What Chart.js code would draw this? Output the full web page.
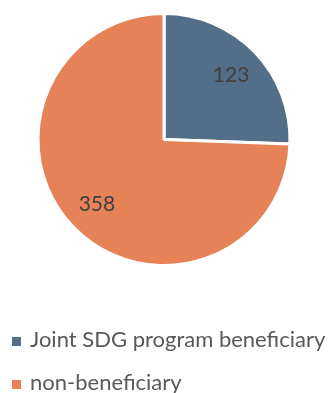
<!DOCTYPE html>
<html>
<head>
<meta charset="utf-8">
<script src="https://cdn.jsdelivr.net/npm/chart.js@4/dist/chart.umd.min.js"></script>
<style>
  html, body { margin: 0; padding: 0; background: #ffffff; }
  #wrap { width: 328px; height: 393px; position: relative; }
</style>
</head>
<body>
<div id="wrap"><canvas id="chart"></canvas></div>
<script>
// Survey respondents split by programme participation
const categories = ['Joint SDG program beneficiary', 'non-beneficiary'];
const counts = [123, 358];
const sliceColors = ['#526E88', '#E58258'];

// Value labels inside each slice, placed along the slice's mid angle
const sliceLabels = {
  id: 'sliceLabels',
  afterDatasetsDraw(chart) {
    const ctx = chart.ctx;
    const meta = chart.getDatasetMeta(0);
    ctx.save();
    ctx.font = '21px Lato, "Open Sans", sans-serif';
    ctx.fillStyle = '#404040';
    ctx.textAlign = 'center';
    ctx.textBaseline = 'middle';
    meta.data.forEach((arc, i) => {
      const p = arc.getProps(['x', 'y', 'startAngle', 'endAngle', 'outerRadius'], true);
      const mid = (p.startAngle + p.endAngle) / 2;
      const r = p.outerRadius * 0.74;
      ctx.fillText(String(chart.data.datasets[0].data[i]), p.x + Math.cos(mid) * r, p.y + Math.sin(mid) * r);
    });
    ctx.restore();
  }
};

// Stacked legend beneath the pie, one entry per row
const stackedLegend = {
  id: 'stackedLegend',
  afterDraw(chart) {
    const ctx = chart.ctx;
    const top = chart.chartArea.bottom;
    const colors = chart.data.datasets[0].backgroundColor;
    ctx.save();
    ctx.font = '22px Lato, "Open Sans", sans-serif';
    ctx.textAlign = 'left';
    ctx.textBaseline = 'alphabetic';
    chart.data.labels.forEach((label, i) => {
      const baseline = top + 80 + i * 43;
      ctx.fillStyle = colors[i];
      ctx.fillRect(12, baseline - 10, 9, 9);
      ctx.fillStyle = '#595959';
      ctx.fillText(label, 30, baseline);
    });
    ctx.restore();
  }
};

new Chart(document.getElementById('chart'), {
  type: 'pie',
  data: {
    labels: categories,
    datasets: [{
      data: counts,
      backgroundColor: sliceColors,
      borderColor: '#ffffff',
      borderWidth: 3
    }]
  },
  options: {
    responsive: true,
    maintainAspectRatio: false,
    animation: false,
    layout: { padding: { top: 12, bottom: 126, left: 0, right: 0 } },
    plugins: {
      legend: { display: false },
      tooltip: { enabled: false }
    }
  },
  plugins: [sliceLabels, stackedLegend]
});
</script>
</body>
</html>
